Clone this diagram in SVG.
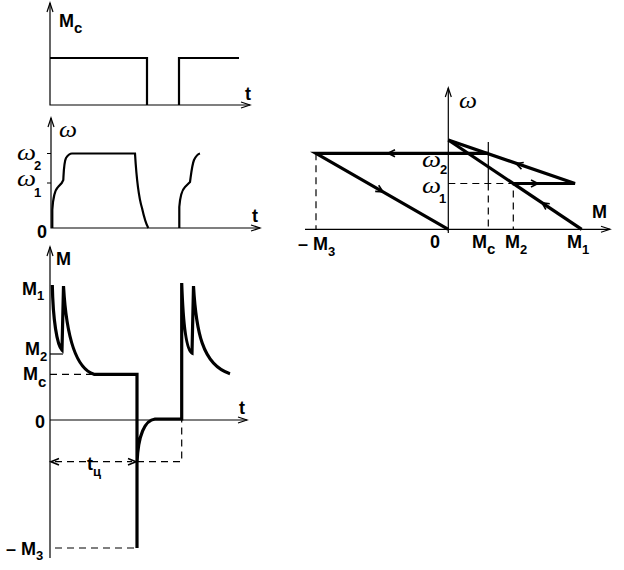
<svg xmlns="http://www.w3.org/2000/svg" width="624" height="570" viewBox="0 0 624 570">
<style>
.ax{fill:none;stroke:#000;stroke-width:1.2}
.ah{fill:none;stroke:#000;stroke-width:1.2}
.th{fill:none;stroke:#000;stroke-width:2.2;stroke-linejoin:miter}
.tk{fill:none;stroke:#000;stroke-width:3.2;stroke-linejoin:miter}
.ds{fill:none;stroke:#000;stroke-width:1.2;stroke-dasharray:7,5}
.thin{fill:none;stroke:#000;stroke-width:1.2}
.ch{fill:none;stroke:#000;stroke-width:1.6}
.lb{font-family:"Liberation Sans",Arial,sans-serif;font-weight:bold;font-size:18px;fill:#000}
.sb{font-size:13px}
.sc{font-size:15px}
.w{font-family:"Liberation Serif","Times New Roman",serif;font-style:italic;font-size:23px;fill:#000}
</style>
<rect width="624" height="570" fill="#fff"/>

<g id="graph-Mc">
  <path class="ax" d="M50,3 V105 H250"/>
  <path class="ah" d="M47,12 L50,3 L53,12"/>
  <path class="ah" d="M241,102 L250,105 L241,108"/>
  <path class="th" d="M50,58 H147 V105"/>
  <path class="th" d="M179,105 V58 H239"/>
  <text class="lb" x="59" y="27">M<tspan class="sc" dy="6">c</tspan></text>
  <text class="lb" x="245" y="100">t</text>
</g>

<g id="graph-omega">
  <path class="ax" d="M51,118 V228 H260"/>
  <path class="ah" d="M48,127 L51,118 L54,127"/>
  <path class="ah" d="M251,225 L260,228 L251,231"/>
  <path class="thin" d="M47,153.5 H51 M47,183 H51"/>
  <path class="th" d="M52.3,228 L52.3,210 C53,198 55,190 58,187 L61.7,183 L63.3,180 C63.8,170 64,162 66,158 C68,155 70,153.5 72,153.5 L135,153.5 C136,170 138,195 142,208 C144,217 146,224 148.3,228"/>
  <path class="th" d="M179.3,228 L179.3,207 C180,198 182,190 185,187 L190,182 C191,175 192,165 194,160 C196,156 198,154 200,153.5"/>
  <text class="w" x="59" y="137" textLength="18" lengthAdjust="spacingAndGlyphs">ω</text>
  <text class="w" x="17" y="160" textLength="19" lengthAdjust="spacingAndGlyphs">ω</text>
  <text class="lb sb" x="34" y="170">2</text>
  <text class="w" x="17" y="186" textLength="19" lengthAdjust="spacingAndGlyphs">ω</text>
  <text class="lb sb" x="34" y="197">1</text>
  <text class="lb" x="37" y="238">0</text>
  <text class="lb" x="252" y="222">t</text>
</g>

<g id="graph-M">
  <path class="ax" d="M50,247 V558 M50,420 H247"/>
  <path class="ah" d="M47,256 L50,247 L53,256"/>
  <path class="ah" d="M238,417 L247,420 L238,423"/>
  <path class="thin" d="M50,354 H63"/>
  <path class="ds" d="M50,374.3 H92"/>
  <path class="ds" d="M55,548 H137"/>
  <path class="ds" d="M55,461.7 H132 M137,461.7 H181.7 V420"/>
  <path class="ch" d="M59,458.5 L51,461.7 L59,464.9"/>
  <path class="ch" d="M128,458.5 L136,461.7 L128,464.9"/>
  <path class="tk" d="M52.3,285 C53,320 57,345 62,350 L63.5,286 C66,330 74,368 94,374.3 L137,374.3 L137,548 M137,463 C138,435 145,420 155,419 L181.7,419 L181.7,283 C183,320 186,350 192,353 L193.5,286 C196,330 202,365 230,373.7"/>
  <text class="lb" x="56" y="265" font-size="16">M</text>
  <text class="lb" x="22" y="295">M<tspan class="sb" dy="5">1</tspan></text>
  <text class="lb" x="25" y="355">M<tspan class="sb" dy="6">2</tspan></text>
  <text class="lb" x="23" y="380">M<tspan class="sc" dy="7">c</tspan></text>
  <text class="lb" x="35" y="428">0</text>
  <text class="lb" x="239" y="414">t</text>
  <text class="lb" x="87" y="470">t<tspan class="sb" dy="6">ц</tspan></text>
  <text class="lb" x="6" y="555">– M<tspan class="sb" dy="5">3</tspan></text>
</g>

<g id="graph-mech">
  <path class="ax" d="M448.3,88 V233 M305,229.3 H610"/>
  <path class="ah" d="M445.3,97 L448.3,88 L451.3,97"/>
  <path class="ah" d="M601,226.3 L610,229.3 L601,232.3"/>
  <path class="ds" d="M316,153.3 V229.3"/>
  <path class="thin" d="M488.3,142 V183.5"/>
  <path class="ds" d="M488.3,183.5 V229.3"/>
  <path class="ds" d="M448.3,183.5 H513.3 V229.3"/>
  <g id="connectors">
    <path class="tk" d="M448.3,140 L575,183.5 L513.3,183.5"/>
    <path class="tk" d="M448.3,140 L581.7,229.3"/>
    <path class="tk" d="M488.3,153.3 L316,153.3 L448.3,229.3"/>
    <path class="ch" d="M-7,-3.5 L0,0 L-7,3.5" transform="translate(388,153.3) rotate(180)"/>
    <path class="ch" d="M-7,-3.5 L0,0 L-7,3.5" transform="translate(516,163.5) rotate(198.95)"/>
    <path class="ch" d="M-7,-3.5 L0,0 L-7,3.5" transform="translate(538,183.5) rotate(0)"/>
    <path class="ch" d="M-7,-3.5 L0,0 L-7,3.5" transform="translate(542,202.7) rotate(213.8)"/>
    <path class="ch" d="M-7,-3.5 L0,0 L-7,3.5" transform="translate(383,191.8) rotate(29.9)"/>
  </g>
  <text class="w" x="459" y="108" textLength="18" lengthAdjust="spacingAndGlyphs">ω</text>
  <text class="w" x="422" y="167" textLength="19" lengthAdjust="spacingAndGlyphs">ω</text>
  <text class="lb sb" x="440" y="174">2</text>
  <text class="w" x="422" y="193" textLength="19" lengthAdjust="spacingAndGlyphs">ω</text>
  <text class="lb sb" x="439" y="203">1</text>
  <text class="lb" x="592" y="218" font-size="16">M</text>
  <text class="lb" x="298" y="250">– M<tspan class="sb" dy="6">3</tspan></text>
  <text class="lb" x="430" y="248">0</text>
  <text class="lb" x="472" y="248">M<tspan class="sc" dy="6">c</tspan></text>
  <text class="lb" x="505" y="248">M<tspan class="sb" dy="6">2</tspan></text>
  <text class="lb" x="567" y="248">M<tspan class="sb" dy="6">1</tspan></text>
</g>
</svg>
